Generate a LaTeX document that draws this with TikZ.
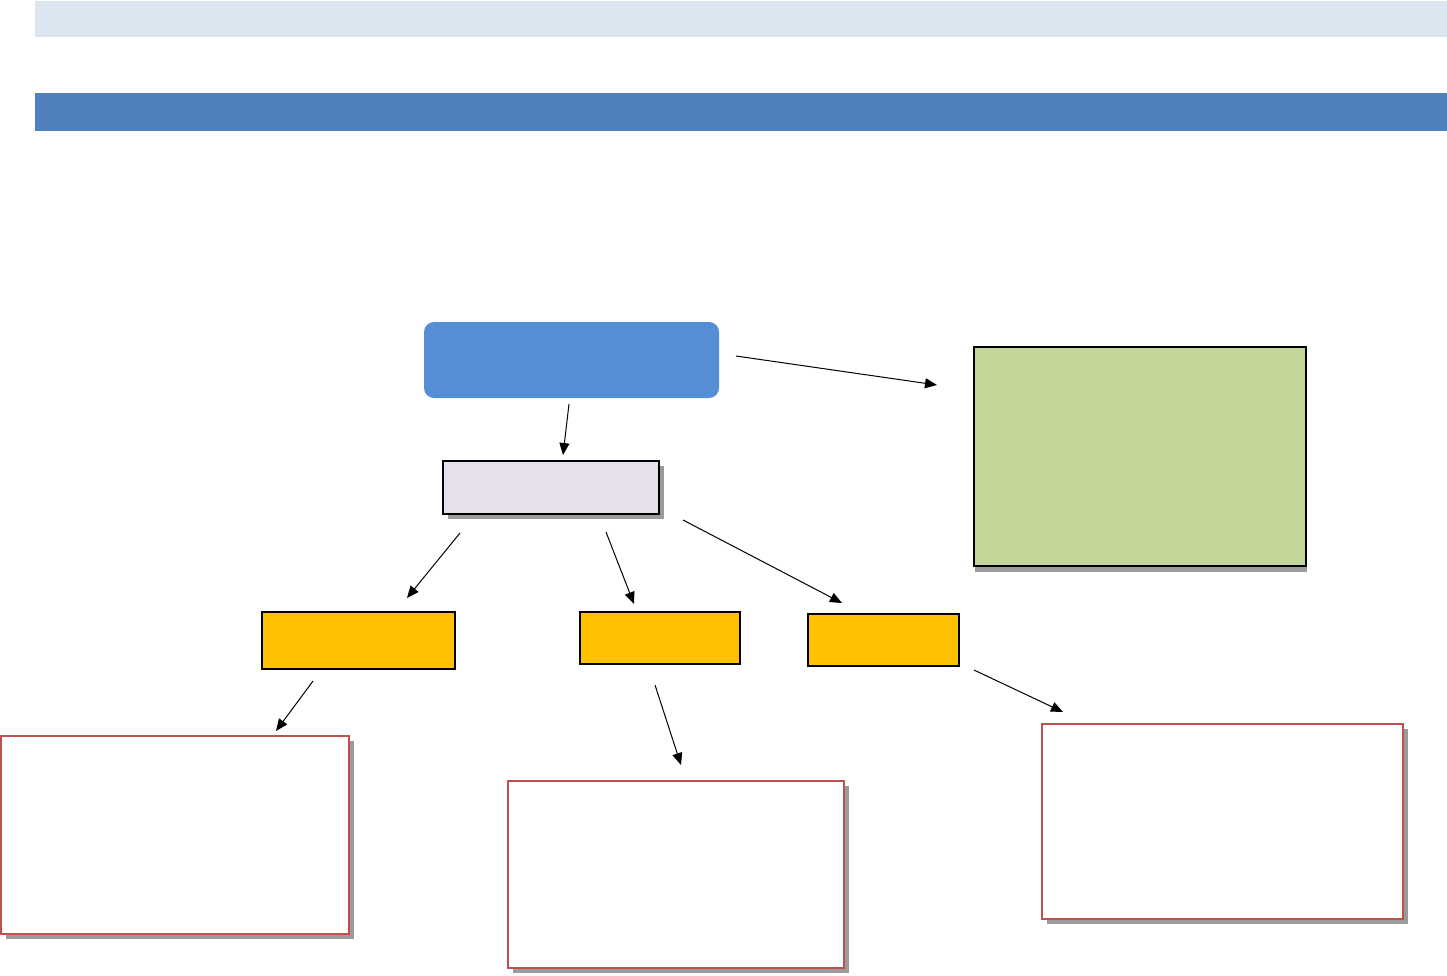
\documentclass[tikz,border=0pt]{standalone}
\usetikzlibrary{arrows.meta,shadows}
\definecolor{bandlight}{RGB}{220,230,241}
\definecolor{banddark}{RGB}{79,129,189}
\definecolor{topblue}{RGB}{85,142,213}
\definecolor{lavender}{RGB}{229,224,236}
\definecolor{leafgreen}{RGB}{196,215,155}
\definecolor{amber}{RGB}{255,192,0}
\definecolor{brickred}{RGB}{192,80,77}
\definecolor{shadowgray}{RGB}{155,155,155}
\tikzset{
  box/.style={draw=black,line width=2pt,inner sep=0pt},
  shadowed/.style={drop shadow={shadow xshift=5pt,shadow yshift=-5pt,fill=shadowgray,opacity=1}},
  redbox/.style={draw=brickred,line width=2pt,fill=white,inner sep=0pt,shadowed},
  conn/.style={line width=1pt,-{Triangle[length=12pt,width=10pt]}}
}
\begin{document}
\begin{tikzpicture}[x=1pt,y=-1pt]
\useasboundingbox (0,0) rectangle (1447,975);
% bands
\fill[bandlight] (35,1) rectangle (1447,37);
\fill[banddark] (35,93) rectangle (1447,131);
% nodes
\path[fill=topblue,rounded corners=10pt] (424,322) rectangle (719,398);
\coordinate (top) at (571.5,360);
\node[box,fill=lavender,shadowed,minimum width=216pt,minimum height=53pt] (mid) at (551,487.5) {};
\node[box,fill=leafgreen,drop shadow={shadow xshift=1pt,shadow yshift=-6pt,fill=shadowgray,opacity=1},minimum width=332pt,minimum height=219pt] (green) at (1140,456.5) {};
\node[box,fill=amber,minimum width=193pt,minimum height=57pt] (o1) at (358.5,640.5) {};
\node[box,fill=amber,minimum width=160pt,minimum height=52pt] (o2) at (660,638) {};
\node[box,fill=amber,minimum width=151pt,minimum height=52pt] (o3) at (883.5,640) {};
\node[redbox,minimum width=348pt,minimum height=198pt] (r1) at (175,835) {};
\node[redbox,minimum width=336pt,minimum height=187pt] (r2) at (676,874.5) {};
\node[redbox,minimum width=361pt,minimum height=195pt] (r3) at (1222.5,821.5) {};
% connector end points
\coordinate (a1s) at (736,356); \coordinate (a1e) at (937,385);
\coordinate (a2s) at (569,404); \coordinate (a2e) at (563,455);
\coordinate (a3s) at (460,533); \coordinate (a3e) at (407,598);
\coordinate (a4s) at (606,532); \coordinate (a4e) at (634,604);
\coordinate (a5s) at (683,520); \coordinate (a5e) at (842,603);
\coordinate (a6s) at (313,681); \coordinate (a6e) at (276,731);
\coordinate (a7s) at (655,685); \coordinate (a7e) at (681,765);
\coordinate (a8s) at (974,670); \coordinate (a8e) at (1063,712);
\draw[conn] (a1s) -- (a1e);
\draw[conn] (a2s) -- (a2e);
\draw[conn] (a3s) -- (a3e);
\draw[conn] (a4s) -- (a4e);
\draw[conn] (a5s) -- (a5e);
\draw[conn] (a6s) -- (a6e);
\draw[conn] (a7s) -- (a7e);
\draw[conn] (a8s) -- (a8e);
\end{tikzpicture}
\end{document}
